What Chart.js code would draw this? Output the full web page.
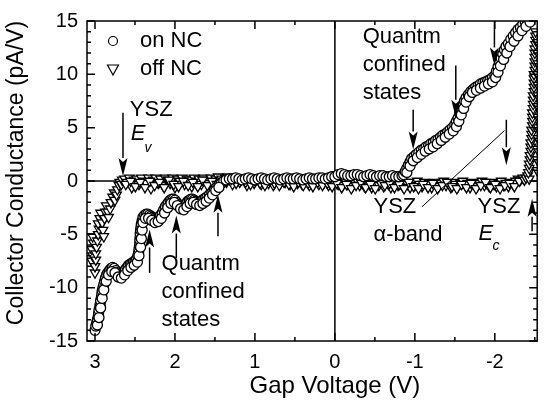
<!DOCTYPE html>
<html>
<head>
<meta charset="utf-8">
<script src="https://cdn.jsdelivr.net/npm/chart.js@4"></script>
<style>
  body { margin: 0; background: #fff; }
</style>
</head>
<body>
<canvas id="c" width="544" height="401"></canvas>
<script>
// tick values
const xTicks = [3, 2, 1, 0, -1, -2];
const xMinor = [2.5, 1.5, 0.5, -0.5, -1.5, -2.5];
const yTicks = [-15, -10, -5, 0, 5, 10, 15];

// "on NC" (circles) as [gap voltage, conductance]
const onLeft = [
  [3.0,-14.0],[2.99,-13.6],[2.98,-13.3],[2.97,-13.0],[2.96,-12.7],[2.955,-12.4],[2.95,-12.1],[2.94,-11.8],
  [2.935,-11.5],[2.93,-11.2],[2.92,-10.9],[2.915,-10.6],[2.91,-10.3],[2.9,-10.0],[2.89,-9.7],[2.88,-9.4],
  [2.87,-9.1],[2.855,-8.8],[2.84,-8.6],[2.82,-8.4],[2.8,-8.2],[2.78,-8.1],[2.76,-8.2],[2.74,-8.4],
  [2.72,-8.6],[2.7,-8.8],[2.68,-8.9],[2.66,-8.8],[2.64,-8.6],[2.62,-8.3],[2.6,-8.1],[2.58,-7.9],
  [2.56,-7.8],[2.54,-7.7],[2.52,-7.6],[2.5,-7.5],[2.48,-7.3],[2.465,-7.0],[2.455,-6.7],[2.45,-6.4],
  [2.445,-6.1],[2.44,-5.8],[2.44,-5.5],[2.435,-5.2],[2.435,-4.9],[2.43,-4.6],[2.425,-4.3],[2.42,-4.0],
  [2.41,-3.7],[2.4,-3.4],[2.38,-3.2],[2.36,-3.1],[2.34,-3.1],[2.32,-3.2],[2.3,-3.3],[2.28,-3.4],
  [2.26,-3.5],[2.24,-3.6],[2.22,-3.5],[2.2,-3.4],[2.18,-3.2],[2.16,-3.0],[2.14,-2.7],[2.12,-2.4],
  [2.1,-2.2],[2.08,-2.0],[2.06,-1.8],[2.04,-1.7],[2.02,-1.7],[2.0,-1.8],[1.98,-2.0],[1.96,-2.2],
  [1.94,-2.3],[1.92,-2.4],[1.9,-2.4],[1.88,-2.3],[1.86,-2.1],[1.84,-1.9],[1.82,-1.8],[1.8,-1.7],
  [1.78,-1.7],[1.76,-1.8],[1.74,-1.9],[1.72,-2.0],[1.7,-2.0],[1.68,-1.9],[1.66,-1.8],[1.64,-1.7],
  [1.62,-1.6],[1.6,-1.5],[1.57,-1.3],[1.54,-1.1],[1.51,-0.9],[1.48,-0.6],[1.45,-0.4],[1.42,-0.2],[1.39,0.0],
  // second sweep, slightly offset
  [2.97,-13.5],[2.95,-12.8],[2.93,-11.9],[2.91,-11.0],[2.89,-10.2],[2.86,-9.4],[2.83,-8.8],[2.79,-8.5],
  [2.75,-8.6],[2.71,-9.0],[2.67,-9.1],[2.63,-8.8],[2.59,-8.4],[2.55,-8.1],[2.51,-7.9],[2.47,-7.6],
  [2.45,-7.0],[2.43,-6.2],[2.42,-5.4],[2.41,-4.6],[2.4,-3.9],[2.37,-3.5],[2.33,-3.5],[2.29,-3.7],
  [2.25,-3.9],[2.21,-3.8],[2.17,-3.5],[2.13,-3.0],[2.09,-2.5],[2.05,-2.1],[2.01,-2.0],[1.97,-2.3],
  [1.93,-2.6],[1.89,-2.7],[1.85,-2.4],[1.81,-2.1],[1.77,-2.0],[1.73,-2.2],[1.69,-2.3],[1.65,-2.1],
  [1.61,-1.9],[1.57,-1.6],[1.53,-1.3],[1.49,-0.9],[1.45,-0.6]
];
const onMid = [
  [1.36,0.1],[1.32,0.2],[1.28,0.2],[1.24,0.3],[1.2,0.2],[1.16,0.1],[1.12,0.2],[1.08,0.3],[1.04,0.2],
  [1.0,0.1],[0.96,0.2],[0.92,0.3],[0.88,0.2],[0.84,0.1],[0.8,0.2],[0.76,0.3],[0.72,0.2],[0.68,0.1],
  [0.64,0.2],[0.6,0.3],[0.56,0.2],[0.52,0.2],[0.48,0.3],[0.44,0.2],[0.4,0.1],[0.36,0.2],[0.32,0.3],
  [0.28,0.2],[0.24,0.2],[0.2,0.3],[0.16,0.3],[0.12,0.2],[0.08,0.3],[0.04,0.4],[0.0,0.4],[-0.04,0.6],
  [-0.08,0.7],[-0.12,0.6],[-0.16,0.5],[-0.2,0.5],[-0.24,0.6],[-0.28,0.6],[-0.32,0.5],[-0.36,0.4],
  [-0.4,0.5],[-0.44,0.6],[-0.48,0.5],[-0.52,0.4],[-0.56,0.5],[-0.6,0.5],[-0.64,0.4],[-0.68,0.4],
  [-0.72,0.5],[-0.76,0.4],[-0.8,0.4],[-0.84,0.5]
];
const onRight = [
  [-0.86,0.6],[-0.88,0.9],[-0.9,1.2],[-0.92,1.5],[-0.94,1.8],[-0.96,2.1],[-0.99,2.3],[-1.02,2.5],
  [-1.05,2.7],[-1.08,2.9],[-1.11,3.0],[-1.14,3.2],[-1.17,3.3],[-1.2,3.5],[-1.23,3.6],[-1.26,3.8],
  [-1.29,3.9],[-1.32,4.1],[-1.35,4.3],[-1.38,4.4],[-1.41,4.6],[-1.44,4.8],[-1.47,5.0],[-1.5,5.3],
  [-1.52,5.6],[-1.54,5.9],[-1.56,6.3],[-1.58,6.7],[-1.6,7.1],[-1.62,7.5],[-1.64,7.8],[-1.67,8.1],
  [-1.7,8.4],[-1.73,8.6],[-1.76,8.8],[-1.79,8.9],[-1.82,9.1],[-1.85,9.2],[-1.88,9.3],[-1.91,9.4],
  [-1.94,9.5],[-1.97,9.7],[-2.0,9.9],[-2.02,10.3],[-2.04,10.7],[-2.06,11.1],[-2.08,11.5],[-2.1,11.9],
  [-2.12,12.3],[-2.14,12.6],[-2.17,12.9],[-2.2,13.3],[-2.23,13.6],[-2.26,13.9],[-2.29,14.2],[-2.32,14.4],
  [-2.35,14.7],[-2.38,14.9],[-2.41,15.1],[-2.44,15.3],
  // second sweep
  [-0.9,0.8],[-0.94,1.4],[-0.98,1.9],[-1.03,2.2],[-1.08,2.5],[-1.13,2.8],[-1.18,3.0],[-1.23,3.2],
  [-1.28,3.5],[-1.33,3.8],[-1.38,4.1],[-1.43,4.4],[-1.48,4.7],[-1.52,5.1],[-1.55,5.6],[-1.58,6.2],
  [-1.61,6.8],[-1.64,7.4],[-1.68,7.9],[-1.72,8.3],[-1.77,8.5],[-1.82,8.7],[-1.87,8.9],[-1.92,9.1],
  [-1.97,9.3],[-2.01,9.7],[-2.04,10.2],[-2.07,10.8],[-2.11,11.4],[-2.15,12.0],[-2.19,12.6],[-2.24,13.1],
  [-2.29,13.6],[-2.34,14.1],[-2.39,14.5],[-2.44,14.9]
];

// "off NC" (down triangles)
const offLeft = [
  [3.04,-7.5],[3.03,-7.0],[3.04,-6.4],[3.02,-5.8],[3.03,-5.2],[3.0,-8.6],[3.0,-8.0],[2.99,-7.4],
  [2.99,-6.8],[2.98,-6.2],[2.97,-5.6],[2.96,-5.0],[2.95,-4.5],[2.96,-4.0],[2.94,-3.5],[2.93,-3.0],
  [2.91,-3.9],[2.9,-4.6],[2.89,-5.2],[2.88,-3.5],[2.87,-2.9],[2.86,-2.3],[2.84,-2.9],[2.83,-3.4],
  [2.81,-2.6],[2.8,-2.0],[2.78,-1.5],[2.76,-1.1],[2.75,-1.8],[2.73,-1.3],[2.72,-0.8],[2.7,-0.4],
  [2.69,-0.1],[2.67,-0.3],[2.66,0.1]
];
const offBand = [
  [2.63,0.2],[2.6,-0.1],[2.57,0.3],[2.54,-0.6],[2.51,0.1],[2.48,0.2],[2.45,-0.3],[2.42,0.3],[2.39,0.0],[2.36,-0.2],
  [2.33,0.3],[2.3,-0.7],[2.27,0.1],[2.24,0.3],[2.21,-0.2],[2.18,0.2],[2.15,-0.4],[2.12,0.3],[2.09,0.1],[2.06,-0.2],
  [2.03,0.3],[2.0,-0.6],[1.97,0.2],[1.94,0.0],[1.91,0.3],[1.88,-0.3],[1.85,0.2],[1.82,0.1],[1.79,-0.5],[1.76,0.3],
  [1.73,0.0],[1.7,0.2],[1.67,-0.3],[1.64,0.3],[1.61,0.1],[1.58,-0.2],[1.55,0.3],[1.52,-0.4],[1.49,0.2],[1.46,0.4],
  [1.43,0.1],[1.4,-0.2],[1.37,0.3],[1.34,0.4],[1.31,0.1],[1.28,-0.3],[1.25,0.3],[1.22,0.2],[1.19,-0.1],[1.16,0.3],
  [1.13,0.0],[1.1,-0.4],[1.07,0.2],[1.04,0.1],[1.01,-0.2],[0.98,0.2],[0.95,0.0],[0.92,-0.3],[0.89,0.2],[0.86,0.1],
  [0.83,-0.2],[0.8,0.2],[0.77,-0.4],[0.74,0.1],[0.71,0.2],[0.68,-0.2],[0.65,0.1],[0.62,-0.1],[0.59,0.2],[0.56,-0.3],
  [0.53,0.1],[0.5,0.0],[0.47,-0.2],[0.44,0.2],[0.41,-0.3],[0.38,0.1],[0.35,0.0],[0.32,-0.4],[0.29,0.1],[0.26,-0.1],
  [0.23,0.2],[0.2,-0.3],[0.17,0.0],[0.14,-0.2],[0.11,0.1],[0.08,-0.4],[0.05,0.0],[0.02,-0.2],[-0.01,0.1],[-0.04,-0.3],
  [-0.07,-0.1],[-0.1,-0.4],[-0.13,0.0],[-0.16,-0.3],[-0.19,-0.1],[-0.22,-0.5],[-0.25,-0.2],[-0.28,0.0],[-0.31,-0.4],[-0.34,-0.2],
  [-0.37,-0.5],[-0.4,-0.1],[-0.43,-0.3],[-0.46,-0.6],[-0.49,-0.2],[-0.52,0.0],[-0.55,-0.4],[-0.58,-0.2],[-0.61,-0.5],[-0.64,-0.1],
  [-0.67,-0.3],[-0.7,-0.6],[-0.73,-0.2],[-0.76,0.0],[-0.79,-0.4],[-0.82,-0.2],[-0.85,-0.5],[-0.88,-0.1],[-0.91,-0.3],[-0.94,-0.6],
  [-0.97,-0.2],[-1.0,-0.4],[-1.03,0.0],[-1.06,-0.3],[-1.09,-0.5],[-1.12,-0.1],[-1.15,-0.4],[-1.18,-0.2],[-1.21,-0.6],[-1.24,-0.1],
  [-1.27,-0.3],[-1.3,-0.5],[-1.33,-0.2],[-1.36,0.0],[-1.39,-0.4],[-1.42,-0.2],[-1.45,-0.6],[-1.48,-0.1],[-1.51,-0.3],[-1.54,-0.5],
  [-1.57,-0.2],[-1.6,0.0],[-1.63,-0.4],[-1.66,-0.2],[-1.69,-0.6],[-1.72,-0.1],[-1.75,-0.3],[-1.78,-0.5],[-1.81,-0.2],[-1.84,0.0],
  [-1.87,-0.4],[-1.9,-0.2],[-1.93,-0.5],[-1.96,-0.1],[-1.99,-0.3],[-2.02,-0.5],[-2.05,-0.2],[-2.08,0.0],[-2.11,-0.4],[-2.14,-0.2],
  [-2.17,-0.5],[-2.2,-0.1],[-2.23,-0.3],[-2.26,0.0],[-2.29,0.2],[-2.32,0.1],[-2.35,0.3],
  // second sweep
  [2.615,-0.3],[2.555,0.0],[2.495,-0.5],[2.435,-0.1],[2.375,-0.6],[2.315,0.0],[2.255,-0.4],[2.195,-0.1],[2.135,-0.6],[2.075,0.1],
  [2.015,-0.3],[1.955,-0.5],[1.895,0.0],[1.835,-0.4],[1.775,-0.1],[1.715,-0.5],[1.655,0.1],[1.595,-0.4],[1.535,0.0],[1.475,-0.3],
  [1.415,0.2],[1.355,-0.1],[1.295,0.2],[1.235,-0.2],[1.175,0.1],[1.115,-0.1],[1.055,-0.3],[0.995,0.0],[0.935,-0.2],[0.875,-0.4],
  [0.815,0.0],[0.755,-0.2],[0.695,-0.4],[0.635,-0.1],[0.575,-0.3],[0.515,-0.5],[0.455,-0.1],[0.395,-0.4],[0.335,-0.2],[0.275,-0.5],
  [0.215,-0.1],[0.155,-0.4],[0.095,-0.2],[0.035,-0.5],[-0.025,-0.2],[-0.085,-0.6],[-0.145,-0.3],[-0.205,-0.7],[-0.265,-0.4],[-0.325,-0.1],
  [-0.385,-0.6],[-0.445,-0.3],[-0.505,-0.7],[-0.565,-0.1],[-0.625,-0.4],[-0.685,-0.2],[-0.745,-0.6],[-0.805,-0.3],[-0.865,-0.7],[-0.925,-0.1],
  [-0.985,-0.5],[-1.045,-0.7],[-1.105,-0.3],[-1.165,-0.6],[-1.225,-0.2],[-1.285,-0.7],[-1.345,-0.4],[-1.405,-0.1],[-1.465,-0.5],[-1.525,-0.7],
  [-1.585,-0.3],[-1.645,-0.6],[-1.705,-0.2],[-1.765,-0.7],[-1.825,-0.4],[-1.885,-0.1],[-1.945,-0.6],[-2.005,-0.3],[-2.065,-0.7],[-2.125,-0.4],
  [-2.185,-0.2],[-2.245,-0.5],[-2.305,0.0]
];
const offRight = [
  [-2.37,0.1],[-2.39,0.3],[-2.41,0.5],[-2.43,0.2],[-2.42,0.8],[-2.43,1.2],[-2.43,1.6],[-2.44,2.0],
  [-2.44,2.4],[-2.45,2.8],[-2.45,3.2],[-2.45,3.6],[-2.46,4.0],[-2.46,4.4],[-2.46,4.8],[-2.47,5.2],
  [-2.47,5.6],[-2.47,6.0],[-2.47,6.4],[-2.48,6.8],[-2.48,7.2],[-2.48,7.6],[-2.48,8.0],[-2.49,8.4],
  [-2.49,8.8],[-2.49,9.2],[-2.49,9.6],[-2.49,10.0],[-2.5,10.4],[-2.5,10.8],[-2.5,11.2],[-2.5,11.6],
  [-2.5,12.0],[-2.5,12.4],[-2.51,12.8],[-2.51,13.2],[-2.51,13.6],[-2.51,14.0],
  [-2.53,1.0],[-2.53,2.0],[-2.53,3.0],[-2.54,4.0],[-2.54,5.0],[-2.54,6.0],[-2.54,7.0],[-2.54,8.0],
  [-2.54,9.0],[-2.54,10.0],[-2.54,11.0],[-2.54,12.0],[-2.54,13.0]
];

const toPts = arr => arr.map(p => ({x: p[0], y: p[1]}));
const onNC = toPts([...onLeft, ...onMid, ...onRight]);
const offNC = toPts([...offLeft, ...offBand, ...offRight]);

const FONT = "'Liberation Sans', Arial, sans-serif";
Chart.defaults.font.family = FONT;
Chart.defaults.color = '#000';

function arrow(ctx, x0, y0, x1, y1) {
  const ang = Math.atan2(y1 - y0, x1 - x0);
  const len = 18, hw = 4.5;
  const bx = x1 - Math.cos(ang) * len, by = y1 - Math.sin(ang) * len;
  ctx.beginPath();
  ctx.moveTo(x0, y0);
  ctx.lineTo(bx, by);
  ctx.stroke();
  ctx.beginPath();
  ctx.moveTo(x1, y1);
  ctx.lineTo(bx - Math.sin(ang) * hw, by + Math.cos(ang) * hw);
  ctx.lineTo(x1 - Math.cos(ang) * (len - 4), y1 - Math.sin(ang) * (len - 4));
  ctx.lineTo(bx + Math.sin(ang) * hw, by - Math.cos(ang) * hw);
  ctx.closePath();
  ctx.fill();
}

const overlay = {
  id: 'overlay',
  beforeDatasetsDraw(chart) {
    const {ctx, chartArea: a, scales: {x, y}} = chart;
    ctx.save();
    ctx.strokeStyle = '#000';
    ctx.lineWidth = 1.5;
    ctx.beginPath();
    const x0 = x.getPixelForValue(0), y0 = y.getPixelForValue(0);
    ctx.moveTo(x0, a.top); ctx.lineTo(x0, a.bottom);
    ctx.moveTo(a.left, y0); ctx.lineTo(a.right, y0);
    ctx.stroke();
    ctx.restore();
  },
  afterDatasetsDraw(chart) {
    const {ctx, chartArea: a, scales: {x, y}} = chart;
    const X = v => x.getPixelForValue(v), Y = c => y.getPixelForValue(c);
    ctx.save();
    ctx.strokeStyle = '#000';
    ctx.fillStyle = '#000';
    ctx.lineWidth = 1.5;
    ctx.strokeRect(a.left, a.top, a.right - a.left, a.bottom - a.top);

    // inward ticks on all four sides
    ctx.beginPath();
    const tx = (v, l) => { ctx.moveTo(X(v), a.bottom); ctx.lineTo(X(v), a.bottom - l); ctx.moveTo(X(v), a.top); ctx.lineTo(X(v), a.top + l); };
    const ty = (c, l) => { ctx.moveTo(a.left, Y(c)); ctx.lineTo(a.left + l, Y(c)); ctx.moveTo(a.right, Y(c)); ctx.lineTo(a.right - l, Y(c)); };
    xTicks.forEach(v => tx(v, 8));
    xMinor.forEach(v => tx(v, 4));
    yTicks.forEach(c => ty(c, 8));
    for (let c = -15; c <= 15; c++) if (c % 5) ty(c, 4);
    ctx.stroke();

    // legend
    ctx.lineWidth = 1.2;
    ctx.fillStyle = '#fff';
    ctx.beginPath(); ctx.arc(a.left + 26, a.top + 20, 4.5, 0, Math.PI * 2); ctx.fill(); ctx.stroke();
    const tyL = a.top + 48, txL = a.left + 26;
    ctx.beginPath(); ctx.moveTo(txL - 5.5, tyL - 4); ctx.lineTo(txL + 5.5, tyL - 4); ctx.lineTo(txL, tyL + 6); ctx.closePath(); ctx.fill(); ctx.stroke();
    ctx.fillStyle = '#000';
    ctx.font = '22px ' + FONT;
    ctx.textBaseline = 'middle';
    ctx.textAlign = 'left';
    ctx.fillText(chart.data.datasets[0].label, a.left + 53, a.top + 20);
    ctx.fillText(chart.data.datasets[1].label, a.left + 53, a.top + 48);

    // annotations (placed in data units)
    const lines = (arr, v, c0, step) => arr.forEach((t, i) => ctx.fillText(t, X(v), Y(c0) + i * step));
    lines(['YSZ'], 2.565, 6.67, 0);
    lines(['Quantm', 'confined', 'states'], -0.347, 13.52, 28);
    lines(['Quantm', 'confined', 'states'], 2.168, -7.78, 28);
    lines(['YSZ', 'α-band'], -0.483, -2.41, 28);
    lines(['YSZ'], -1.784, -2.41, 0);
    ctx.font = 'italic 22px ' + FONT;
    ctx.fillText('E', X(2.553), Y(4.44));
    ctx.fillText('E', X(-1.797), Y(-5.0));
    ctx.font = 'italic 14px ' + FONT;
    ctx.fillText('v', X(2.38), Y(3.06));
    ctx.fillText('c', X(-1.97), Y(-6.1));

    ctx.lineWidth = 1.5;
    arrow(ctx, X(2.65), Y(6.39), X(2.65), Y(0.46));
    arrow(ctx, X(-0.979), Y(6.67), X(-0.979), Y(2.96));
    arrow(ctx, X(-1.512), Y(10.83), X(-1.512), Y(5.93));
    arrow(ctx, X(-1.995), Y(15), X(-1.995), Y(10.83));
    arrow(ctx, X(-2.144), Y(5.74), X(-2.144), Y(1.48));
    arrow(ctx, X(-2.466), Y(-4.72), X(-2.466), Y(-1.67));
    arrow(ctx, X(2.317), Y(-8.61), X(2.317), Y(-4.54));
    arrow(ctx, X(1.983), Y(-7.22), X(1.983), Y(-3.24));
    arrow(ctx, X(1.462), Y(-5.19), X(1.462), Y(-1.30));
    ctx.lineWidth = 1;
    ctx.beginPath();
    ctx.moveTo(X(-1.09), Y(-2.41)); ctx.lineTo(X(-2.12), Y(4.72));
    ctx.stroke();

    // axis titles
    ctx.font = '24px ' + FONT;
    ctx.textAlign = 'center';
    ctx.fillText('Gap Voltage (V)', X(0), 386);
    ctx.font = '23px ' + FONT;
    ctx.translate(17, 173);
    ctx.rotate(-Math.PI / 2);
    ctx.fillText('Collector Conductance (pA/V)', 0, 0);
    ctx.restore();
  }
};

new Chart(document.getElementById('c'), {
  type: 'scatter',
  data: {
    datasets: [
      {
        label: 'on NC',
        data: onNC,
        pointStyle: 'circle',
        pointRadius: 5,
        backgroundColor: '#fff',
        borderColor: '#000',
        borderWidth: 1.3,
        clip: 0
      },
      {
        label: 'off NC',
        data: offNC,
        pointStyle: 'triangle',
        rotation: 180,
        pointRadius: 5.5,
        backgroundColor: '#fff',
        borderColor: '#000',
        borderWidth: 1.3,
        clip: 0
      }
    ]
  },
  options: {
    responsive: false,
    animation: false,
    layout: { padding: { top: 17, right: 3, left: 0, bottom: 0 } },
    plugins: { legend: { display: false }, tooltip: { enabled: false } },
    scales: {
      x: {
        type: 'linear',
        reverse: true,
        min: -2.53,
        max: 3.1,
        afterBuildTicks: s => { s.ticks = xTicks.map(v => ({value: v})); },
        afterFit: s => { s.height = 60; },
        grid: { display: false, drawTicks: false },
        border: { display: false },
        ticks: { font: { size: 20 }, padding: 9, maxRotation: 0 }
      },
      y: {
        min: -15,
        max: 15,
        afterBuildTicks: s => { s.ticks = yTicks.map(v => ({value: v})); },
        afterFit: s => { s.width = 87; },
        grid: { display: false, drawTicks: false },
        border: { display: false },
        ticks: { font: { size: 20 }, padding: 9 }
      }
    }
  },
  plugins: [overlay]
});
</script>
</body>
</html>
